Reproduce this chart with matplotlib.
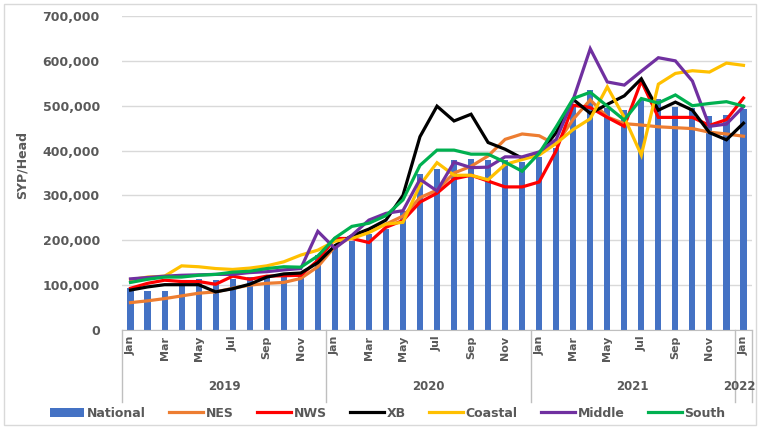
import matplotlib
matplotlib.use("Agg")
import matplotlib.pyplot as plt
import matplotlib.transforms as mtransforms
from matplotlib.patches import Rectangle
from matplotlib.ticker import FuncFormatter

# ----------- Data (SYP/Head, thousands) -----------

months = ["Jan", "Feb", "Mar", "Apr", "May", "Jun",
          "Jul", "Aug", "Sep", "Oct", "Nov", "Dec"] * 3 + ["Jan"]
years = ["2019", "2020", "2021", "2022"]
year_sizes = [12, 12, 12, 1]

national = [94, 87, 87, 100, 113, 111, 113, 118, 122, 125, 128, 167,
            182, 199, 215, 226, 265, 347, 360, 379, 382, 379, 379, 375,
            386, 405, 501, 536, 494, 490, 512, 516, 498, 494, 476, 479,
            492]
nes = [61, 65, 70, 76, 82, 85, 93, 100, 104, 106, 115, 141,
       186, 208, 223, 236, 254, 295, 312, 350, 365, 388, 425, 437,
       433, 413, 470, 513, 475, 460, 457, 453, 451, 449, 441, 437,
       432]
nws = [93, 104, 111, 108, 108, 102, 120, 113, 120, 121, 122, 155,
       204, 204, 195, 229, 244, 285, 305, 337, 345, 332, 319, 319,
       330, 400, 501, 496, 474, 454, 555, 474, 474, 474, 456, 469,
       517]
xb = [89, 96, 101, 101, 101, 85, 92, 102, 118, 125, 127, 150,
      188, 210, 225, 245, 300, 431, 499, 466, 481, 418, 403, 383,
      393, 440, 514, 483, 503, 522, 560, 490, 508, 490, 440, 424,
      461]
coastal = [112, 118, 120, 143, 141, 137, 135, 138, 143, 152, 167, 178,
           198, 204, 217, 236, 240, 323, 373, 345, 345, 335, 369, 380,
           390, 416, 447, 471, 542, 474, 390, 548, 572, 578, 575, 595,
           590]
middle = [114, 117, 120, 122, 123, 124, 124, 128, 130, 134, 137, 220,
          182, 211, 245, 260, 266, 336, 310, 374, 362, 363, 386, 386,
          397, 425, 514, 627, 553, 546, 577, 607, 600, 555, 454, 459,
          498]
south = [106, 113, 118, 118, 122, 124, 129, 131, 137, 141, 140, 165,
         205, 231, 238, 255, 290, 367, 401, 401, 392, 392, 374, 354,
         394, 453, 516, 530, 499, 468, 516, 506, 524, 500, 505, 509,
         499]

lines = [
    ("NES", nes, "#ED7D31"),
    ("NWS", nws, "#FF0000"),
    ("XB", xb, "#000000"),
    ("Coastal", coastal, "#FFC000"),
    ("Middle", middle, "#7030A0"),
    ("South", south, "#00B050"),
]

# ----------- Plot -----------

txt = "#595959"
fig = plt.figure(figsize=(7.61, 4.28), dpi=100)
ax = fig.add_axes([122 / 761, 98 / 428, 630 / 761, 314 / 428])

x = list(range(len(months)))
bars = ax.bar(x, [v * 1000 for v in national], width=0.36, color="#4472C4",
              label="National", zorder=2)
handles = [bars]
for name, vals, col in lines:
    ln, = ax.plot(x, [v * 1000 for v in vals], color=col, lw=2.3, label=name,
                  zorder=3, solid_joinstyle="miter")
    handles.append(ln)

ax.set_xlim(-0.5, len(months) - 0.5)
ax.set_ylim(0, 700000)
ax.set_yticks(range(0, 700001, 100000))
ax.yaxis.set_major_formatter(FuncFormatter(lambda v, p: f"{int(v):,}"))
ax.grid(axis="y", color="#D9D9D9", lw=1, zorder=0)
for s in ["top", "right", "left"]:
    ax.spines[s].set_visible(False)
ax.spines["bottom"].set_color("#BFBFBF")

ax.set_xticks(x)
ax.set_xticklabels([m if i % 2 == 0 else "" for i, m in enumerate(months)],
                   rotation=90, fontsize=8, fontweight="bold", color=txt)
ax.tick_params(axis="x", length=0, pad=4)
ax.tick_params(axis="y", length=0, pad=16, labelsize=9, labelcolor=txt)
for lab in ax.get_yticklabels():
    lab.set_fontweight("bold")

# year groups below months
trans = mtransforms.blended_transform_factory(ax.transData, ax.transAxes)
start = -0.5
bounds = [start]
for yr, n in zip(years, year_sizes):
    ax.text(start + n / 2 - (0.25 if n == 1 else 0), -0.18, yr, transform=trans,
            ha="center", va="center", fontsize=8.5, fontweight="bold", color=txt)
    start += n
    bounds.append(start)
for b in bounds:
    ax.plot([b, b], [0, -0.23], transform=trans, color="#BFBFBF", lw=1,
            clip_on=False)

fig.text(22 / 761, 1 - 165 / 428, "SYP/Head", rotation=90, ha="center",
         va="center", fontsize=9, fontweight="bold", color=txt)

fig.legend(handles=handles, loc="center", bbox_to_anchor=(0.51, 0.035), ncol=7,
           frameon=False, handlelength=2.7, handletextpad=0.2, columnspacing=1.9,
           prop={"size": 9, "weight": "bold"}, labelcolor=txt)

fig.patches.append(Rectangle((4 / 761, 3 / 428), 752 / 761, 421 / 428,
                             transform=fig.transFigure, fill=False,
                             edgecolor="#D9D9D9", lw=1))

plt.savefig("out.png", dpi=100)
plt.close()
